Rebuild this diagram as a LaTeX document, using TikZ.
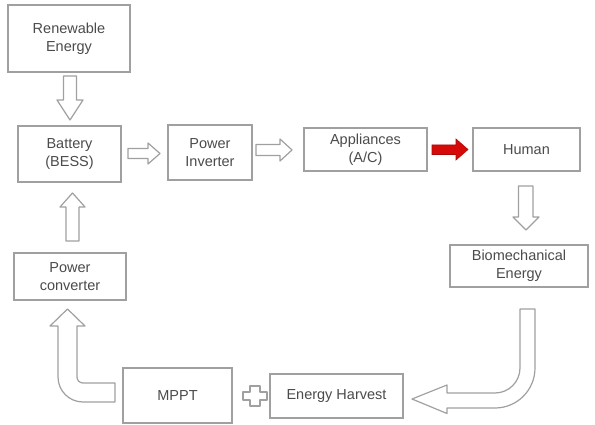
\documentclass[tikz,border=0pt]{standalone}
\usepackage{fontspec}
\setmainfont{Liberation Sans}
\definecolor{boxline}{RGB}{160,160,160}
\definecolor{txt}{RGB}{75,75,75}
\definecolor{redarrow}{RGB}{215,10,10}
\begin{document}
\begin{tikzpicture}[x=1pt,y=-1pt,
  box/.style={draw=boxline, line width=1.2pt, fill=white, inner sep=0pt,
    text=txt, align=center, font=\fontsize{14.5}{18}\selectfont},
  blockarrow/.style={draw=boxline, line width=1.2pt, fill=white, line join=round},
  redblock/.style={draw=redarrow!80!black, line width=0.6pt, fill=redarrow}]
\useasboundingbox (0,0) rectangle (595,425);
\fill[white] (0,0) rectangle (595,425);

\node[box, minimum width=122pt, minimum height=67pt] (ren) at (69,38.5) {Renewable\\Energy};
\node[box, minimum width=103pt, minimum height=56pt] (bat) at (69.5,154) {Battery\\(BESS)};
\node[box, minimum width=84pt, minimum height=55pt] (inv) at (210,152.5) {Power\\Inverter};
\node[box, minimum width=123pt, minimum height=43pt] (app) at (365.5,149.5) {Appliances\\(A/C)};
\node[box, minimum width=107pt, minimum height=43pt] (hum) at (526.5,149.5) {Human};
\node[box, minimum width=138pt, minimum height=42pt] (bio) at (519,266) {Biomechanical\\Energy};
\node[box, minimum width=112pt, minimum height=47pt] (conv) at (70,276.5) {Power\\converter};
\node[box, minimum width=109pt, minimum height=55pt] (mppt) at (177.5,395.5) {MPPT};
\node[box, minimum width=133pt, minimum height=44pt] (harv) at (336.5,396) {Energy Harvest};

% Renewable -> Battery
\draw[blockarrow] (63.5,76) -- (76.5,76) -- (76.5,100) -- (83,100) -- (70,120)
  -- (57,100) -- (63.5,100) -- cycle;
% Battery -> Inverter
\draw[blockarrow] (128,148.5) -- (148,148.5) -- (148,143) -- (160,153.5)
  -- (148,164) -- (148,158.5) -- (128,158.5) -- cycle;
% Inverter -> Appliances
\draw[blockarrow] (256,144.5) -- (280,144.5) -- (280,139) -- (292,150)
  -- (280,161) -- (280,155.5) -- (256,155.5) -- cycle;
% Appliances -> Human (red)
\fill[redblock] (432,145) -- (456,145) -- (456,139) -- (468,149.5)
  -- (456,160) -- (456,154.5) -- (432,154.5) -- cycle;
% Human -> Biomechanical
\draw[blockarrow] (518.5,186) -- (533,186) -- (533,217) -- (539,217) -- (526,230)
  -- (513,217) -- (518.5,217) -- cycle;
% Converter -> Battery
\draw[blockarrow] (66,241) -- (66,207) -- (60,207) -- (72.5,193) -- (85,207)
  -- (79,207) -- (79,241) -- cycle;
% Biomechanical -> Energy Harvest (curved)
\draw[blockarrow] (535,309) -- (535,368) arc[start angle=0, end angle=90, radius=40]
  -- (447,408) -- (447,413.5) -- (412,399) -- (447,385) -- (447,393) -- (495,393)
  arc[start angle=90, end angle=0, radius=25] -- (520,309) -- cycle;
% MPPT -> Power converter (curved)
\draw[blockarrow] (115,402) -- (83,402) arc[start angle=90, end angle=180, radius=25]
  -- (58,326) -- (50,326) -- (67.5,309) -- (85,326) -- (77,326) -- (77,377)
  arc[start angle=180, end angle=90, radius=6] -- (115,383) -- cycle;
% plus sign
\draw[blockarrow] (250,386) -- (260,386) -- (260,392) -- (267,392) -- (267,400)
  -- (260,400) -- (260,406) -- (250,406) -- (250,400) -- (243,400) -- (243,392)
  -- (250,392) -- cycle;
\end{tikzpicture}
\end{document}
